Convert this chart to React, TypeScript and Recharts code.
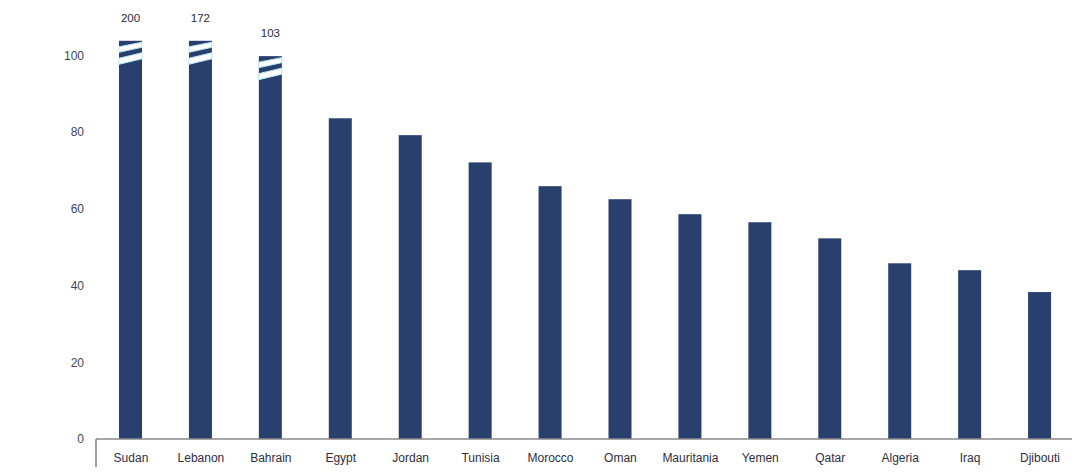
import React from 'react'
import { BarChart, Bar, XAxis, YAxis, LabelList } from 'recharts'

// Pays, classés par ordre décroissant
const countries = [
  'Sudan', 'Lebanon', 'Bahrain', 'Egypt', 'Jordan', 'Tunisia', 'Morocco',
  'Oman', 'Mauritania', 'Yemen', 'Qatar', 'Algeria', 'Iraq', 'Djibouti'
]
// Valeurs réelles
const actualValues = [200, 172, 103, 83.6, 79.2, 72.1, 65.9, 62.5, 58.6, 56.5, 52.3, 45.8, 44.0, 38.3]
// Hauteur affichée (barres coupées au-dessus de l'échelle)
const shownValues = [103.8, 103.8, 99.8, 83.6, 79.2, 72.1, 65.9, 62.5, 58.6, 56.5, 52.3, 45.8, 44.0, 38.3]
const brokenBars = [true, true, true, false, false, false, false, false, false, false, false, false, false, false]
const yTicks = [0, 20, 40, 60, 80, 100]

const BAR_COLOR = '#293f6d'
const FONT = '"Liberation Sans", Arial, sans-serif'

const data = countries.map((name, i) => ({
  name,
  actual: actualValues[i],
  shown: shownValues[i],
  broken: brokenBars[i]
}))

// Barre avec marques de coupure
function BrokenBar(props: any): React.JSX.Element {
  const { x, y, width, height, payload } = props
  const x1 = x + width
  const t = y
  if (!payload.broken) {
    return <rect x={x} y={y} width={width} height={height} fill={BAR_COLOR} />
  }
  const gapA = `${x},${t + 6} ${x1},${t + 1.5} ${x1},${t + 6.5} ${x},${t + 11.5}`
  const gapB = `${x},${t + 17.5} ${x1},${t + 12} ${x1},${t + 18} ${x},${t + 23.5}`
  return (
    <g>
      <rect x={x} y={y} width={width} height={height} fill={BAR_COLOR} />
      <polygon points={gapA} fill="#ffffff" stroke="#b4e9f5" strokeWidth={1} />
      <polygon points={gapB} fill="#ffffff" stroke="#b4e9f5" strokeWidth={1} />
    </g>
  )
}

// Étiquette de la valeur réelle au-dessus des barres coupées
function ActualLabel(props: any): React.JSX.Element | null {
  const { x, y, width, value, index } = props
  if (!brokenBars[index]) return null
  return (
    <text
      x={x + width / 2}
      y={y - 19}
      textAnchor="middle"
      fontSize={11.5}
      fontFamily={FONT}
      fill="#2a2a3a"
    >
      {value}
    </text>
  )
}

function CountryTick(props: any): React.JSX.Element {
  const { x, y, payload } = props
  const half = payload.offset ?? 34.86
  return (
    <g>
      {payload.index === 0 && (
        <line x1={x - half} y1={y} x2={x - half} y2={y + 28} stroke="#7d7d7d" strokeWidth={1.5} />
      )}
      <text x={x} y={y} dy={23} textAnchor="middle" fontSize={12} fontFamily={FONT} fill="#2e2e40">
        {payload.value}
      </text>
    </g>
  )
}

export default function App(): React.JSX.Element {
  return (
    <div style={{ position: 'absolute', left: 0, top: 0, width: 1072, height: 476, background: '#ffffff' }}>
      <BarChart width={1075} height={476} data={data} margin={{ top: 17, right: 0, left: 0, bottom: 0 }}>
        <XAxis
          dataKey="name"
          height={37}
          tickLine={false}
          tickSize={0}
          tickMargin={0}
          interval={0}
          stroke="#8a8a8a"
          strokeWidth={1.5}
          tick={<CountryTick />}
        />
        <YAxis
          width={96}
          domain={[0, 110]}
          ticks={yTicks}
          axisLine={false}
          tickLine={false}
          tickSize={0}
          tickMargin={12}
          tick={{ fontSize: 12, fontFamily: FONT, fill: '#444455' }}
          allowDataOverflow
        />
        <Bar dataKey="shown" barSize={23} fill={BAR_COLOR} shape={<BrokenBar />} isAnimationActive={false}>
          <LabelList dataKey="actual" content={<ActualLabel />} />
        </Bar>
      </BarChart>
    </div>
  )
}
